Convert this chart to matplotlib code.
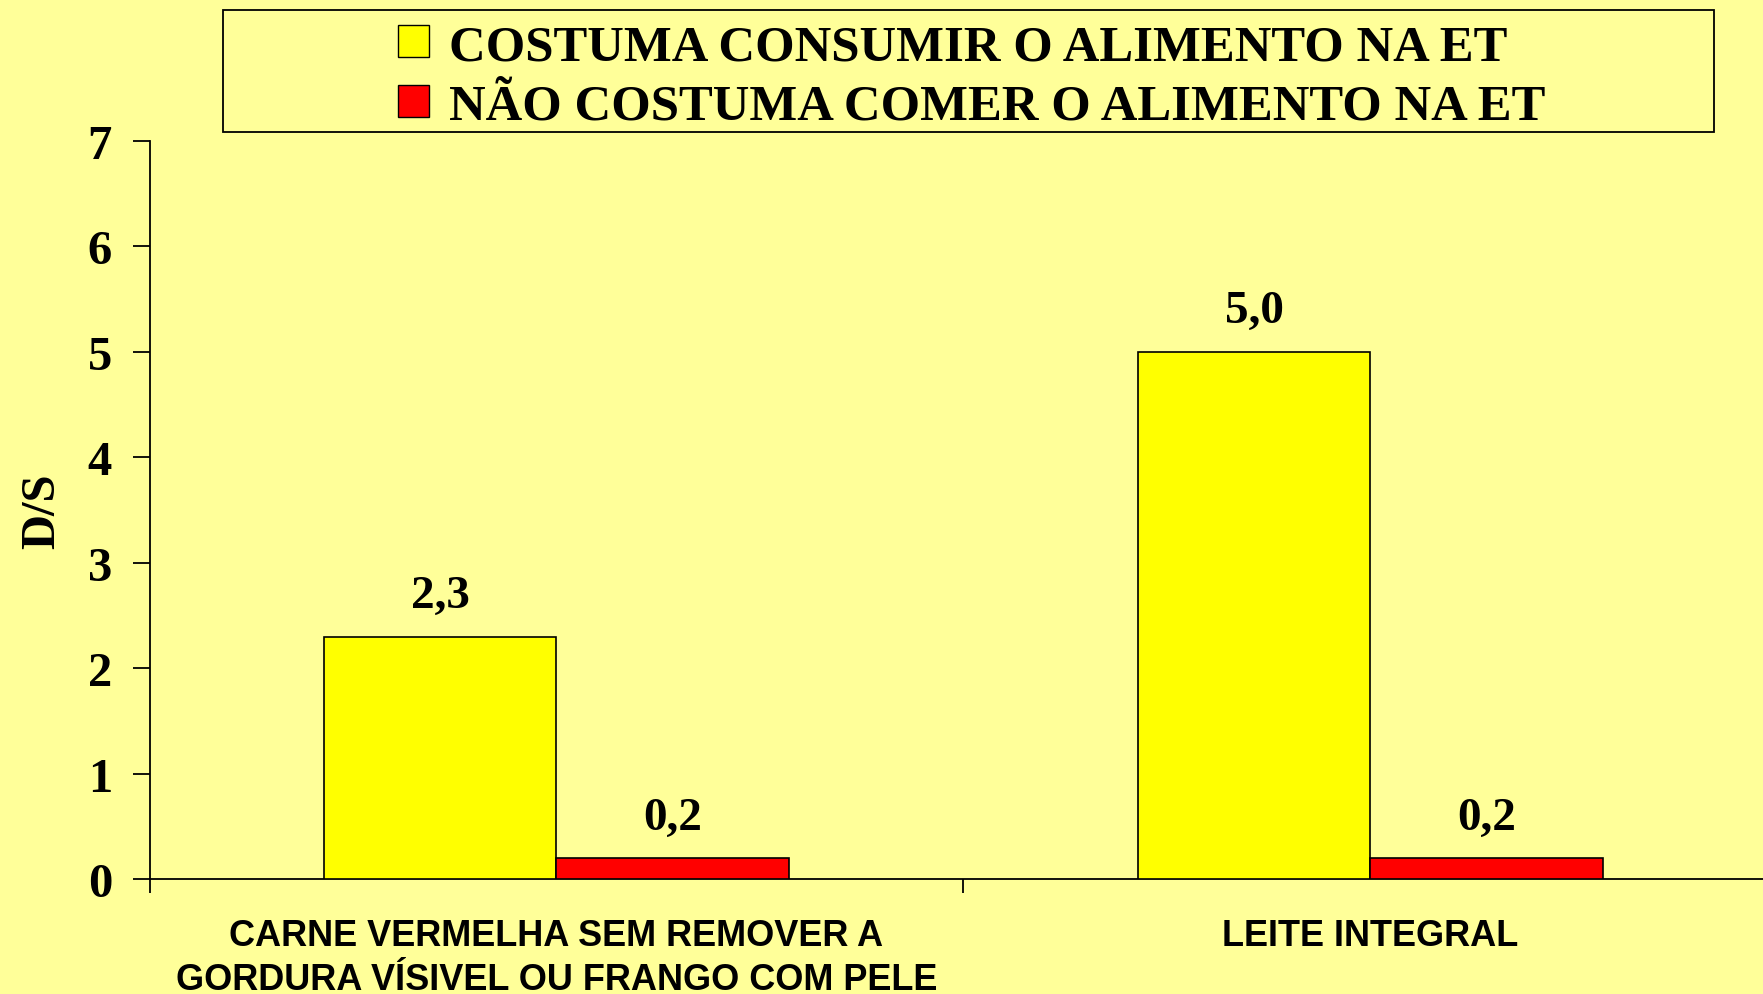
import matplotlib
matplotlib.use("Agg")
import matplotlib.pyplot as plt
from matplotlib.patches import Rectangle, Patch
import numpy as np

categories = ["CARNE VERMELHA SEM REMOVER A\nGORDURA VÍSIVEL OU FRANGO COM PELE", "LEITE INTEGRAL"]
series_names = ["COSTUMA CONSUMIR O ALIMENTO NA ET", "NÃO COSTUMA COMER O ALIMENTO NA ET"]
consome = [2.3, 5.0]
nao_consome = [0.2, 0.2]
value_labels_consome = ["2,3", "5,0"]
value_labels_nao = ["0,2", "0,2"]
yticks = [0, 1, 2, 3, 4, 5, 6, 7]

BG = "#FFFF99"
serif = ["Liberation Serif", "DejaVu Serif"]
sans = ["Liberation Sans", "DejaVu Sans"]

fig = plt.figure(figsize=(17.63, 9.95), dpi=100, facecolor=BG)
ax = fig.add_axes([0.0848, 0.1152, 0.9233, 0.7424])
ax.set_facecolor(BG)

x = np.arange(len(categories))
w = 0.286
b1 = ax.bar(x - w / 2, consome, w, color="#FFFF00", edgecolor="black", linewidth=1.2, zorder=3)
b2 = ax.bar(x + w / 2, nao_consome, w, color="#FF0000", edgecolor="black", linewidth=1.2, zorder=3)

for bars, labs in ((b1, value_labels_consome), (b2, value_labels_nao)):
    for rect, lab in zip(bars, labs):
        ax.annotate(lab, (rect.get_x() + rect.get_width() / 2, rect.get_height()),
                    xytext=(0, 14), textcoords="offset points", ha="center", va="bottom",
                    fontsize=34, fontweight="bold", family=serif)

ax.set_xlim(-0.5, 1.5)
ax.set_ylim(0, 7)

ax.tick_params(axis="y", direction="out", length=12, width=1.3, pad=15)
ax.tick_params(axis="x", which="major", direction="out", length=10, width=1.3)
ax.tick_params(axis="x", which="minor", length=0, pad=28)

ax.set_yticks(yticks)
ax.set_yticklabels([str(v) for v in yticks])
for t in ax.get_yticklabels():
    t.set_fontsize(35)
    t.set_fontweight("bold")
    t.set_family(serif)

ax.set_xticks([-0.5, 0.5, 1.5])
ax.set_xticklabels([])
ax.set_xticks(x, minor=True)
ax.set_xticklabels(categories, minor=True)
for t in ax.get_xticklabels(minor=True):
    t.set_fontsize(26)
    t.set_fontweight("bold")
    t.set_family(sans)
    t.set_linespacing(1.32)

for s in ["top", "right"]:
    ax.spines[s].set_visible(False)
ax.spines["left"].set_linewidth(1.3)
ax.spines["bottom"].set_linewidth(1.3)

ax.set_ylabel("D/S", fontsize=35, fontweight="bold", family=serif)
ax.yaxis.set_label_coords(-0.0525, 0.5)

# legend frame
fig.patches.append(Rectangle((223 / 1763, 1 - 133 / 995), (1714 - 223) / 1763, (133 - 11) / 995,
                             transform=fig.transFigure, facecolor="none", edgecolor="black",
                             linewidth=1.3))
handles = [Patch(facecolor="#FFFF00", edgecolor="black"), Patch(facecolor="#FF0000", edgecolor="black")]
fig.legend(handles, series_names, loc="center", bbox_to_anchor=(0.5513, 1 - 78 / 995),
           frameon=False, prop={"family": serif, "weight": "bold", "size": 36.5},
           handlelength=0.6, handleheight=0.6, handletextpad=0.4, labelspacing=0.27,
           borderpad=0)

fig.savefig("out.png", dpi=100, facecolor=BG)
